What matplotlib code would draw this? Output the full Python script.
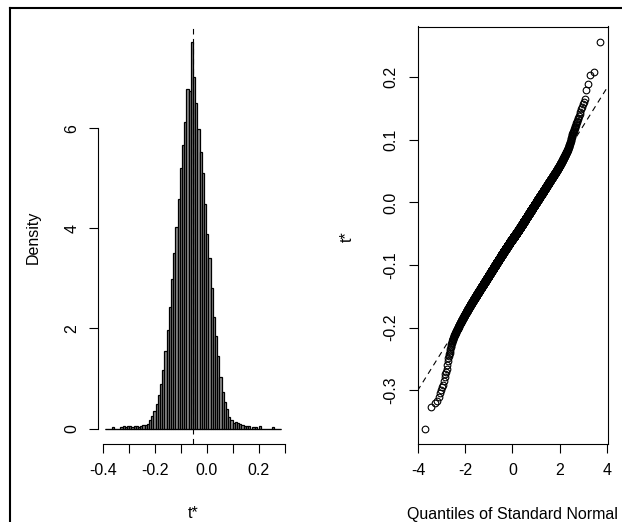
from statistics import NormalDist

import matplotlib

matplotlib.use("Agg")
import matplotlib.pyplot as plt
import numpy as np
from matplotlib.lines import Line2D

# bootstrap replicates t*, binned into equal-width bins between these limits
bin_lo = -0.391
bin_hi = 0.286
counts = [
    0, 0, 0, 1, 0, 0, 0, 1, 2, 1,
    2, 2, 1, 2, 2, 1, 2, 3, 3, 4,
    7, 11, 15, 21, 29, 38, 50, 66, 84, 104,
    128, 150, 172, 196, 222, 242, 262, 290, 288, 330,
    300, 278, 256, 236, 218, 192, 166, 146, 120, 95,
    79, 62, 44, 31, 23, 17, 10, 7, 5, 6,
    5, 4, 3, 2, 2, 2, 0, 1, 1, 0,
    2, 0, 0, 0, 0, 0, 1, 0, 0, 0,
]
t0 = -0.054  # statistic on the original data

hist_xticks = [-0.4, -0.3, -0.2, -0.1, 0.0, 0.1, 0.2, 0.3]
hist_xlabels = ["-0.4", "", "-0.2", "", "0.0", "", "0.2", ""]
hist_yticks = [0, 2, 4, 6]
hist_ylabels = ["0", "2", "4", "6"]
qq_xticks = [-4, -2, 0, 2, 4]
qq_xlabels = ["-4", "-2", "0", "2", "4"]
qq_yticks = [-0.3, -0.2, -0.1, 0.0, 0.1, 0.2]
qq_ylabels = ["-0.3", "-0.2", "-0.1", "0.0", "0.1", "0.2"]

plt.rcParams["font.family"] = ["Liberation Sans", "DejaVu Sans"]
plt.rcParams["font.size"] = 11.5

W, H = 622, 522
fig = plt.figure(figsize=(W / 100, H / 100), dpi=100)


def px_box(x0, y0, x1, y1):
    return [x0 / W, 1 - y1 / H, (x1 - x0) / W, (y1 - y0) / H]


ax1 = fig.add_axes(px_box(98, 26.5, 288, 444))
ax2 = fig.add_axes(px_box(417.5, 26.5, 607.5, 444))

edges = np.linspace(bin_lo, bin_hi, len(counts) + 1)
width = edges[1] - edges[0]
# the replicates of each bin, laid out evenly across that bin
t = np.concatenate([lo + width * (np.arange(c) + 0.5) / c
                    for lo, c in zip(edges[:-1], counts) if c])
n = t.size

dash = (0, (5, 4))

# histogram
dens, _, _ = ax1.hist(t, bins=edges, density=True, facecolor="#8e8e8e",
                      edgecolor="black", linewidth=0.9)
ax1.hlines(0, edges[0], edges[-1], color="black", lw=0.8)
ax1.axvline(t0, color="black", lw=0.8, ls=dash)
xpad = 0.04 * (edges[-1] - edges[0])
ax1.set_xlim(edges[0] - xpad, edges[-1] + xpad)
ax1.set_ylim(-0.04 * dens.max(), 1.04 * dens.max())
for side in ("top", "right"):
    ax1.spines[side].set_visible(False)
ax1.spines["left"].set_bounds(hist_yticks[0], hist_yticks[-1])
ax1.spines["bottom"].set_bounds(hist_xticks[0], hist_xticks[-1])
ax1.set_xticks(hist_xticks, hist_xlabels)
ax1.set_yticks(hist_yticks, hist_ylabels)

# normal QQ plot
q = np.array([NormalDist().inv_cdf((i + 0.5) / n) for i in range(n)])
ts = np.sort(t)
ax2.plot(q, ts, ls="none", marker="o", ms=4.8, mfc="none", mec="black", mew=0.8)
ax2.axline((0, ts.mean()), slope=ts.std(ddof=1), color="black", lw=0.8, ls=dash)
qpad = 0.04 * (q[-1] - q[0])
ax2.set_xlim(q[0] - qpad, q[-1] + qpad)
tpad = 0.04 * (ts[-1] - ts[0])
ax2.set_ylim(ts[0] - tpad, ts[-1] + tpad)
ax2.set_xticks(qq_xticks, qq_xlabels)
ax2.set_yticks(qq_yticks, qq_ylabels)

for ax in (ax1, ax2):
    for sp in ax.spines.values():
        sp.set_linewidth(0.8)
    ax.tick_params(direction="out", length=6.5, width=0.8, pad=7, labelsize=11.5)
    ax.tick_params(axis="y", labelrotation=90)
    for lbl in ax.get_yticklabels():
        lbl.set_va("center")

fig.text(193 / W, 1 - 514 / H, "t*", ha="center", va="center")
fig.text(512 / W, 1 - 514 / H, "Quantiles of Standard Normal", ha="center", va="center")
fig.text(33 / W, 1 - 237 / H, "Density", rotation=90, ha="center", va="center")
fig.text(347 / W, 1 - 237 / H, "t*", rotation=90, ha="center", va="center")

# screenshot frame
fig.add_artist(Line2D([10 / W, 1], [1 - 8 / H, 1 - 8 / H], transform=fig.transFigure,
                      color="black", lw=1.5))
fig.add_artist(Line2D([10 / W, 10 / W], [0, 1 - 8 / H], transform=fig.transFigure,
                      color="black", lw=1.5))

fig.savefig("out.png", dpi=100, facecolor="white")
